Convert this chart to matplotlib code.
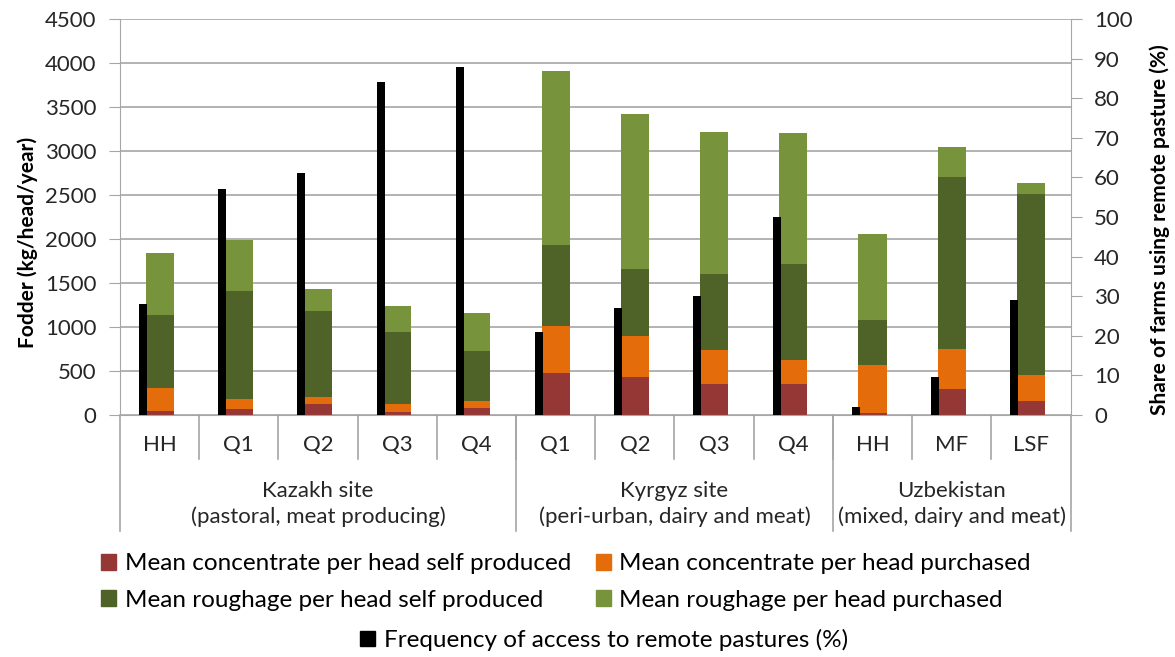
import numpy as np
import matplotlib.pyplot as plt
from matplotlib.patches import Patch
from matplotlib.transforms import blended_transform_factory

plt.rcParams['font.family'] = ['Lato', 'DejaVu Sans']

categories = ['HH', 'Q1', 'Q2', 'Q3', 'Q4', 'Q1', 'Q2', 'Q3', 'Q4', 'HH', 'MF', 'LSF']
groups = ['Kazakh site\n(pastoral, meat producing)',
          'Kyrgyz site\n(peri-urban, dairy and meat)',
          'Uzbekistan\n(mixed, dairy and meat)']
group_sizes = [5, 4, 3]

# kg/head/year
conc_self = [49, 65, 122, 34, 80, 475, 433, 357, 357, 26, 293, 160]
conc_purch = [255, 114, 86, 88, 83, 539, 463, 383, 273, 547, 459, 299]
rough_self = [835, 1230, 969, 820, 562, 914, 764, 862, 1086, 509, 1955, 2050]
rough_purch = [703, 576, 258, 292, 437, 1979, 1765, 1613, 1484, 972, 342, 130]
# % of farms
remote_freq = [28, 57, 61, 84, 88, 21, 27, 30, 50, 2, 9.5, 29]

labels = ['Mean concentrate per head self produced', 'Mean concentrate per head purchased',
          'Mean roughage per head self produced', 'Mean roughage per head purchased']
colors = ['#953735', '#E46C0A', '#4F6228', '#77933C']
grid_col = '#a6a6a6'
txt_col = '#262626'

W, H = 1175, 657
fig = plt.figure(figsize=(W / 100, H / 100), dpi=100)
left, right, top, bottom = 120, 1070.5, 19, 415
ax = fig.add_axes([left / W, 1 - bottom / H, (right - left) / W, (bottom - top) / H])
ax2 = ax.twinx()

x = np.arange(len(categories))
base = np.zeros(len(categories))
for vals, c, lab in zip([conc_self, conc_purch, rough_self, rough_purch], colors, labels):
    ax.bar(x, vals, width=0.355, bottom=base, color=c, label=lab, zorder=2)
    base += np.array(vals)

ax2.bar(x - 0.21, remote_freq, width=0.1, color='black', zorder=3,
        label='Frequency of access to remote pastures (%)')

ax.set_xlim(-0.5, len(categories) - 0.5)
ax.set_ylim(0, 4500)
ax.set_yticks(np.arange(0, 4501, 500))
ax2.set_ylim(0, 100)
ax2.set_yticks(np.arange(0, 101, 10))
ax.yaxis.grid(True, color=grid_col, linewidth=1.2, zorder=0)
ax.set_axisbelow(True)
ax.set_xticks([])

for a in (ax, ax2):
    for s in a.spines.values():
        s.set_visible(False)
ax.spines['left'].set_visible(True)
ax.spines['left'].set_color(grid_col)
ax2.spines['right'].set_visible(True)
ax2.spines['right'].set_color(grid_col)
ax.spines['bottom'].set_visible(True)
ax.spines['bottom'].set_color(grid_col)

ax.tick_params(axis='y', length=8, color=grid_col, labelsize=16, pad=9, labelcolor=txt_col)
ax2.tick_params(axis='y', length=8, color=grid_col, labelsize=16, pad=9, labelcolor=txt_col)

# category axis: labels and separators
tr = blended_transform_factory(ax.transData, ax.transAxes)
ph = bottom - top
for i, c in enumerate(categories):
    ax.text(i, -(445 - bottom) / ph, c, transform=tr, ha='center', va='center',
            fontsize=16, color=txt_col)
for i in range(1, len(categories)):
    ax.plot([i - 0.5, i - 0.5], [0, -(459 - bottom) / ph], transform=tr,
            color=grid_col, lw=1.2, clip_on=False)
edges = np.concatenate([[0], np.cumsum(group_sizes)]) - 0.5
for e in edges:
    ax.plot([e, e], [0, -(531 - bottom) / ph], transform=tr,
            color=grid_col, lw=1.2, clip_on=False)
for g, a0, a1 in zip(groups, edges[:-1], edges[1:]):
    ax.text((a0 + a1) / 2, -(504 - bottom) / ph, g, transform=tr, ha='center',
            va='center', fontsize=16, color=txt_col, linespacing=1.35)

fig.text(28 / W, 1 - 242 / H, 'Fodder (kg/head/year)', rotation=90, ha='center',
         va='center', fontsize=15, fontweight='bold')
fig.text(1160 / W, 1 - 230 / H, 'Share of farms using remote pasture (%)', rotation=90,
         ha='center', va='center', fontsize=15, fontweight='bold')

h = [Patch(color=c) for c in colors]
fig.legend([h[0], h[2], h[1], h[3]], [labels[0], labels[2], labels[1], labels[3]],
           ncol=2, loc='center', bbox_to_anchor=(566 / W, 1 - 582 / H),
           frameon=False, fontsize=17.5, handlelength=0.62, handleheight=0.62,
           handletextpad=0.35, columnspacing=1.0, labelspacing=0.62, borderpad=0.2)
fig.legend([Patch(color='black')], ['Frequency of access to remote pastures (%)'],
           loc='center', bbox_to_anchor=(604 / W, 1 - 640 / H), frameon=False,
           fontsize=17.5, handlelength=0.62, handleheight=0.62, handletextpad=0.35,
           borderpad=0.2)

fig.savefig('out.png', dpi=100)
